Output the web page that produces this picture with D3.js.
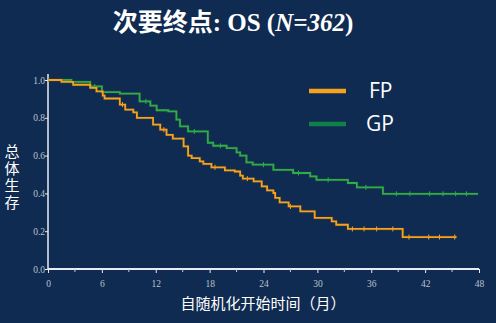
<!DOCTYPE html>
<html lang="zh">
<head>
<meta charset="UTF-8">
<title>OS</title>
<style>
  body { margin: 0; background: #102b51; }
  svg { display: block; }
  .tick text { font-family: "Liberation Serif", serif; fill: #b9c2cf; font-size: 9.5px; }
  .axis path, .axis line { stroke: #e8ecf2; }
</style>
</head>
<body>
<svg width="496" height="323"></svg>
<script src="https://d3js.org/d3.v7.min.js"></script>
<script>
// step points (months, survival)
var fpTime = [0, 1.5, 2.8, 4.7, 5.4, 6.1, 6.3, 8.0, 8.6, 9.5, 9.9, 11.7, 12.5, 13.2, 13.9, 15.1, 15.6, 16.0, 16.9, 17.3, 18.2, 19.7, 20.8, 21.4, 21.7, 22.9, 23.8, 24.4, 25.1, 25.3, 25.8, 26.8, 28.1, 29.7, 31.6, 32.1, 33.4, 39.5, 45.5];
var fpSurv = [1.0, 0.99, 0.975, 0.958, 0.94, 0.917, 0.902, 0.87, 0.843, 0.829, 0.80, 0.764, 0.737, 0.71, 0.69, 0.649, 0.60, 0.587, 0.569, 0.556, 0.538, 0.522, 0.516, 0.494, 0.478, 0.464, 0.437, 0.416, 0.402, 0.376, 0.352, 0.331, 0.305, 0.27, 0.252, 0.234, 0.212, 0.169, 0.169];
var gpTime = [0, 2.6, 4.7, 6.0, 8.0, 10.2, 11.4, 12.1, 13.4, 14.3, 14.7, 15.6, 17.8, 18.4, 19.9, 21.0, 21.4, 22.1, 22.8, 25.1, 27.3, 29.2, 29.9, 33.4, 34.4, 37.3, 47.9];
var gpSurv = [1.0, 0.99, 0.966, 0.936, 0.928, 0.887, 0.864, 0.84, 0.834, 0.79, 0.755, 0.728, 0.668, 0.652, 0.64, 0.617, 0.60, 0.564, 0.552, 0.525, 0.508, 0.49, 0.472, 0.455, 0.432, 0.398, 0.398];
// censor marks
var fpCensor = [8.3, 12.9, 18.6, 22.2, 27.0, 33.9, 35.2, 36.6, 38.4, 40.2, 42.4, 43.6, 45.3];
var gpCensor = [5.2, 10.9, 16.3, 19.2, 24.0, 27.9, 31.2, 35.4, 38.8, 40.3, 42.5, 44.0, 45.4, 46.6];

var xTicks = [0, 6, 12, 18, 24, 30, 36, 42, 48];
var yTicks = [0, 0.2, 0.4, 0.6, 0.8, 1.0];
var seriesNames = ["FP", "GP"];

var svg = d3.select("svg");
var x = d3.scaleLinear().domain([0, 48]).range([48, 479]);
var y = d3.scaleLinear().domain([0, 1]).range([269, 80]);

svg.append("rect").attr("width", 496).attr("height", 323).attr("fill", "#102b51");

// title
svg.append("text")
  .attr("x", 233).attr("y", 31)
  .attr("text-anchor", "middle")
  .attr("fill", "#ffffff")
  .attr("font-weight", "bold")
  .attr("font-size", 25)
  .attr("font-family", "'Liberation Serif', 'Noto Sans CJK SC', serif")
  .html("次要终点: OS (<tspan font-style='italic'>N=362</tspan>)");

// axes
svg.append("g").attr("class", "axis")
  .attr("transform", "translate(0,269)")
  .call(d3.axisBottom(x).tickValues(xTicks).tickFormat(d3.format("d")).tickSize(4).tickSizeOuter(0))
  .call(function(g) {
    g.select(".domain").attr("stroke-width", 2.2).attr("d", "M48,0H479");
    g.selectAll(".tick text").attr("dy", "1.15em");
  });
// minor ticks every 3 months
svg.append("g").selectAll("line")
  .data(d3.range(3, 48, 6))
  .enter().append("line")
  .attr("x1", function(d) { return x(d); }).attr("x2", function(d) { return x(d); })
  .attr("y1", 269).attr("y2", 272)
  .attr("stroke", "#c9d0da").attr("stroke-width", 1);

svg.append("g").attr("class", "axis")
  .attr("transform", "translate(48,0)")
  .call(d3.axisLeft(y).tickValues(yTicks).tickFormat(d3.format(".1f")).tickSize(3).tickSizeOuter(0))
  .call(function(g) {
    g.select(".domain").attr("stroke-width", 1.5).attr("d", "M0,269V74");
    g.selectAll(".tick text").attr("x", -3);
  });

// curves
var line = d3.line()
  .x(function(d) { return x(d[0]); })
  .y(function(d) { return y(d[1]); })
  .curve(d3.curveStepAfter);

function survAt(times, surv, t) {
  var i = d3.bisectRight(times, t) - 1;
  return surv[Math.max(0, i)];
}

function drawCurve(times, surv, censor, color) {
  var pts = times.map(function(t, i) { return [t, surv[i]]; });
  svg.append("path").datum(pts)
    .attr("fill", "none").attr("stroke", "#5a4a30").attr("stroke-opacity", 0.35)
    .attr("stroke-width", 3).attr("d", line);
  svg.append("path").datum(pts)
    .attr("fill", "none").attr("stroke", color)
    .attr("stroke-width", 1.8).attr("d", line);
  svg.append("g").selectAll("line")
    .data(censor)
    .enter().append("line")
    .attr("x1", function(d) { return x(d); }).attr("x2", function(d) { return x(d); })
    .attr("y1", function(d) { return y(survAt(times, surv, d)) - 2.5; })
    .attr("y2", function(d) { return y(survAt(times, surv, d)) + 2.5; })
    .attr("stroke", color).attr("stroke-width", 1);
}
drawCurve(gpTime, gpSurv, gpCensor, "#27b04a");
drawCurve(fpTime, fpSurv, fpCensor, "#f7a21c");

// legend
var legColors = ["#f7a21c", "#10804a"];
var leg = svg.append("g").selectAll("g")
  .data(seriesNames)
  .enter().append("g")
  .attr("transform", function(d, i) { return "translate(309," + (91 + i * 33) + ")"; });
leg.append("line")
  .attr("x1", 0).attr("x2", 37)
  .attr("stroke", function(d, i) { return legColors[i]; })
  .attr("stroke-width", 4.5);
leg.append("text")
  .attr("x", function(d, i) { return i === 0 ? 60 : 57; })
  .attr("dy", "0.35em")
  .attr("fill", "#ffffff")
  .attr("font-size", 21)
  .attr("font-family", "'Open Sans', sans-serif")
  .text(function(d) { return d; });

// axis titles
svg.append("text")
  .attr("x", 263).attr("y", 309)
  .attr("text-anchor", "middle")
  .attr("fill", "#ffffff")
  .attr("font-size", 15)
  .attr("font-family", "'Noto Sans CJK SC', sans-serif")
  .text("自随机化开始时间（月）");

svg.append("text")
  .attr("transform", "translate(12,178)")
  .attr("text-anchor", "middle")
  .attr("writing-mode", "vertical-rl")
  .attr("letter-spacing", 2)
  .attr("fill", "#ffffff")
  .attr("font-size", 15)
  .attr("font-family", "'Noto Sans CJK SC', sans-serif")
  .text("总体生存");
</script>
</body>
</html>
